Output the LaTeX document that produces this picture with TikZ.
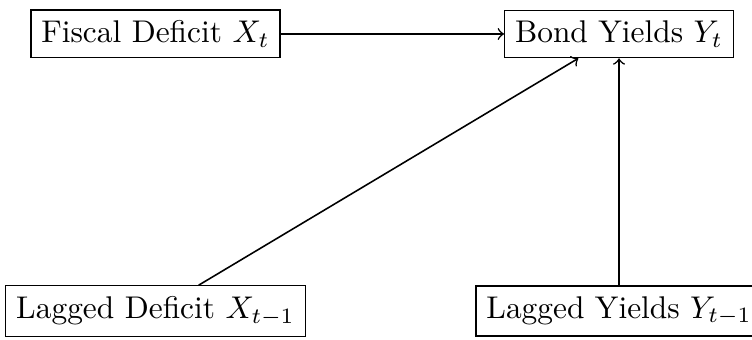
\documentclass[tikz,border=0pt]{standalone}
\begin{document}
\begin{tikzpicture}[x=0.3185pt,y=-0.3185pt,
  box/.style={draw,rectangle,inner sep=3.33pt,fill=white},
  link/.style={->,line width=0.5pt}]
\useasboundingbox (0,0) rectangle (752,340);
\node[box] (fd) at (155.5,34) {Fiscal Deficit $X_t$};
\node[box] (by) at (619,34) {Bond Yields $Y_t$};
\node[box] (ld) at (155.5,311) {Lagged Deficit $X_{t-1}$};
\node[box] (ly) at (619,311) {Lagged Yields $Y_{t-1}$};
\draw[link] (fd) -- (by);
\draw[link] (ld) -- (by);
\draw[link] (ly) -- (by);
\end{tikzpicture}
\end{document}
